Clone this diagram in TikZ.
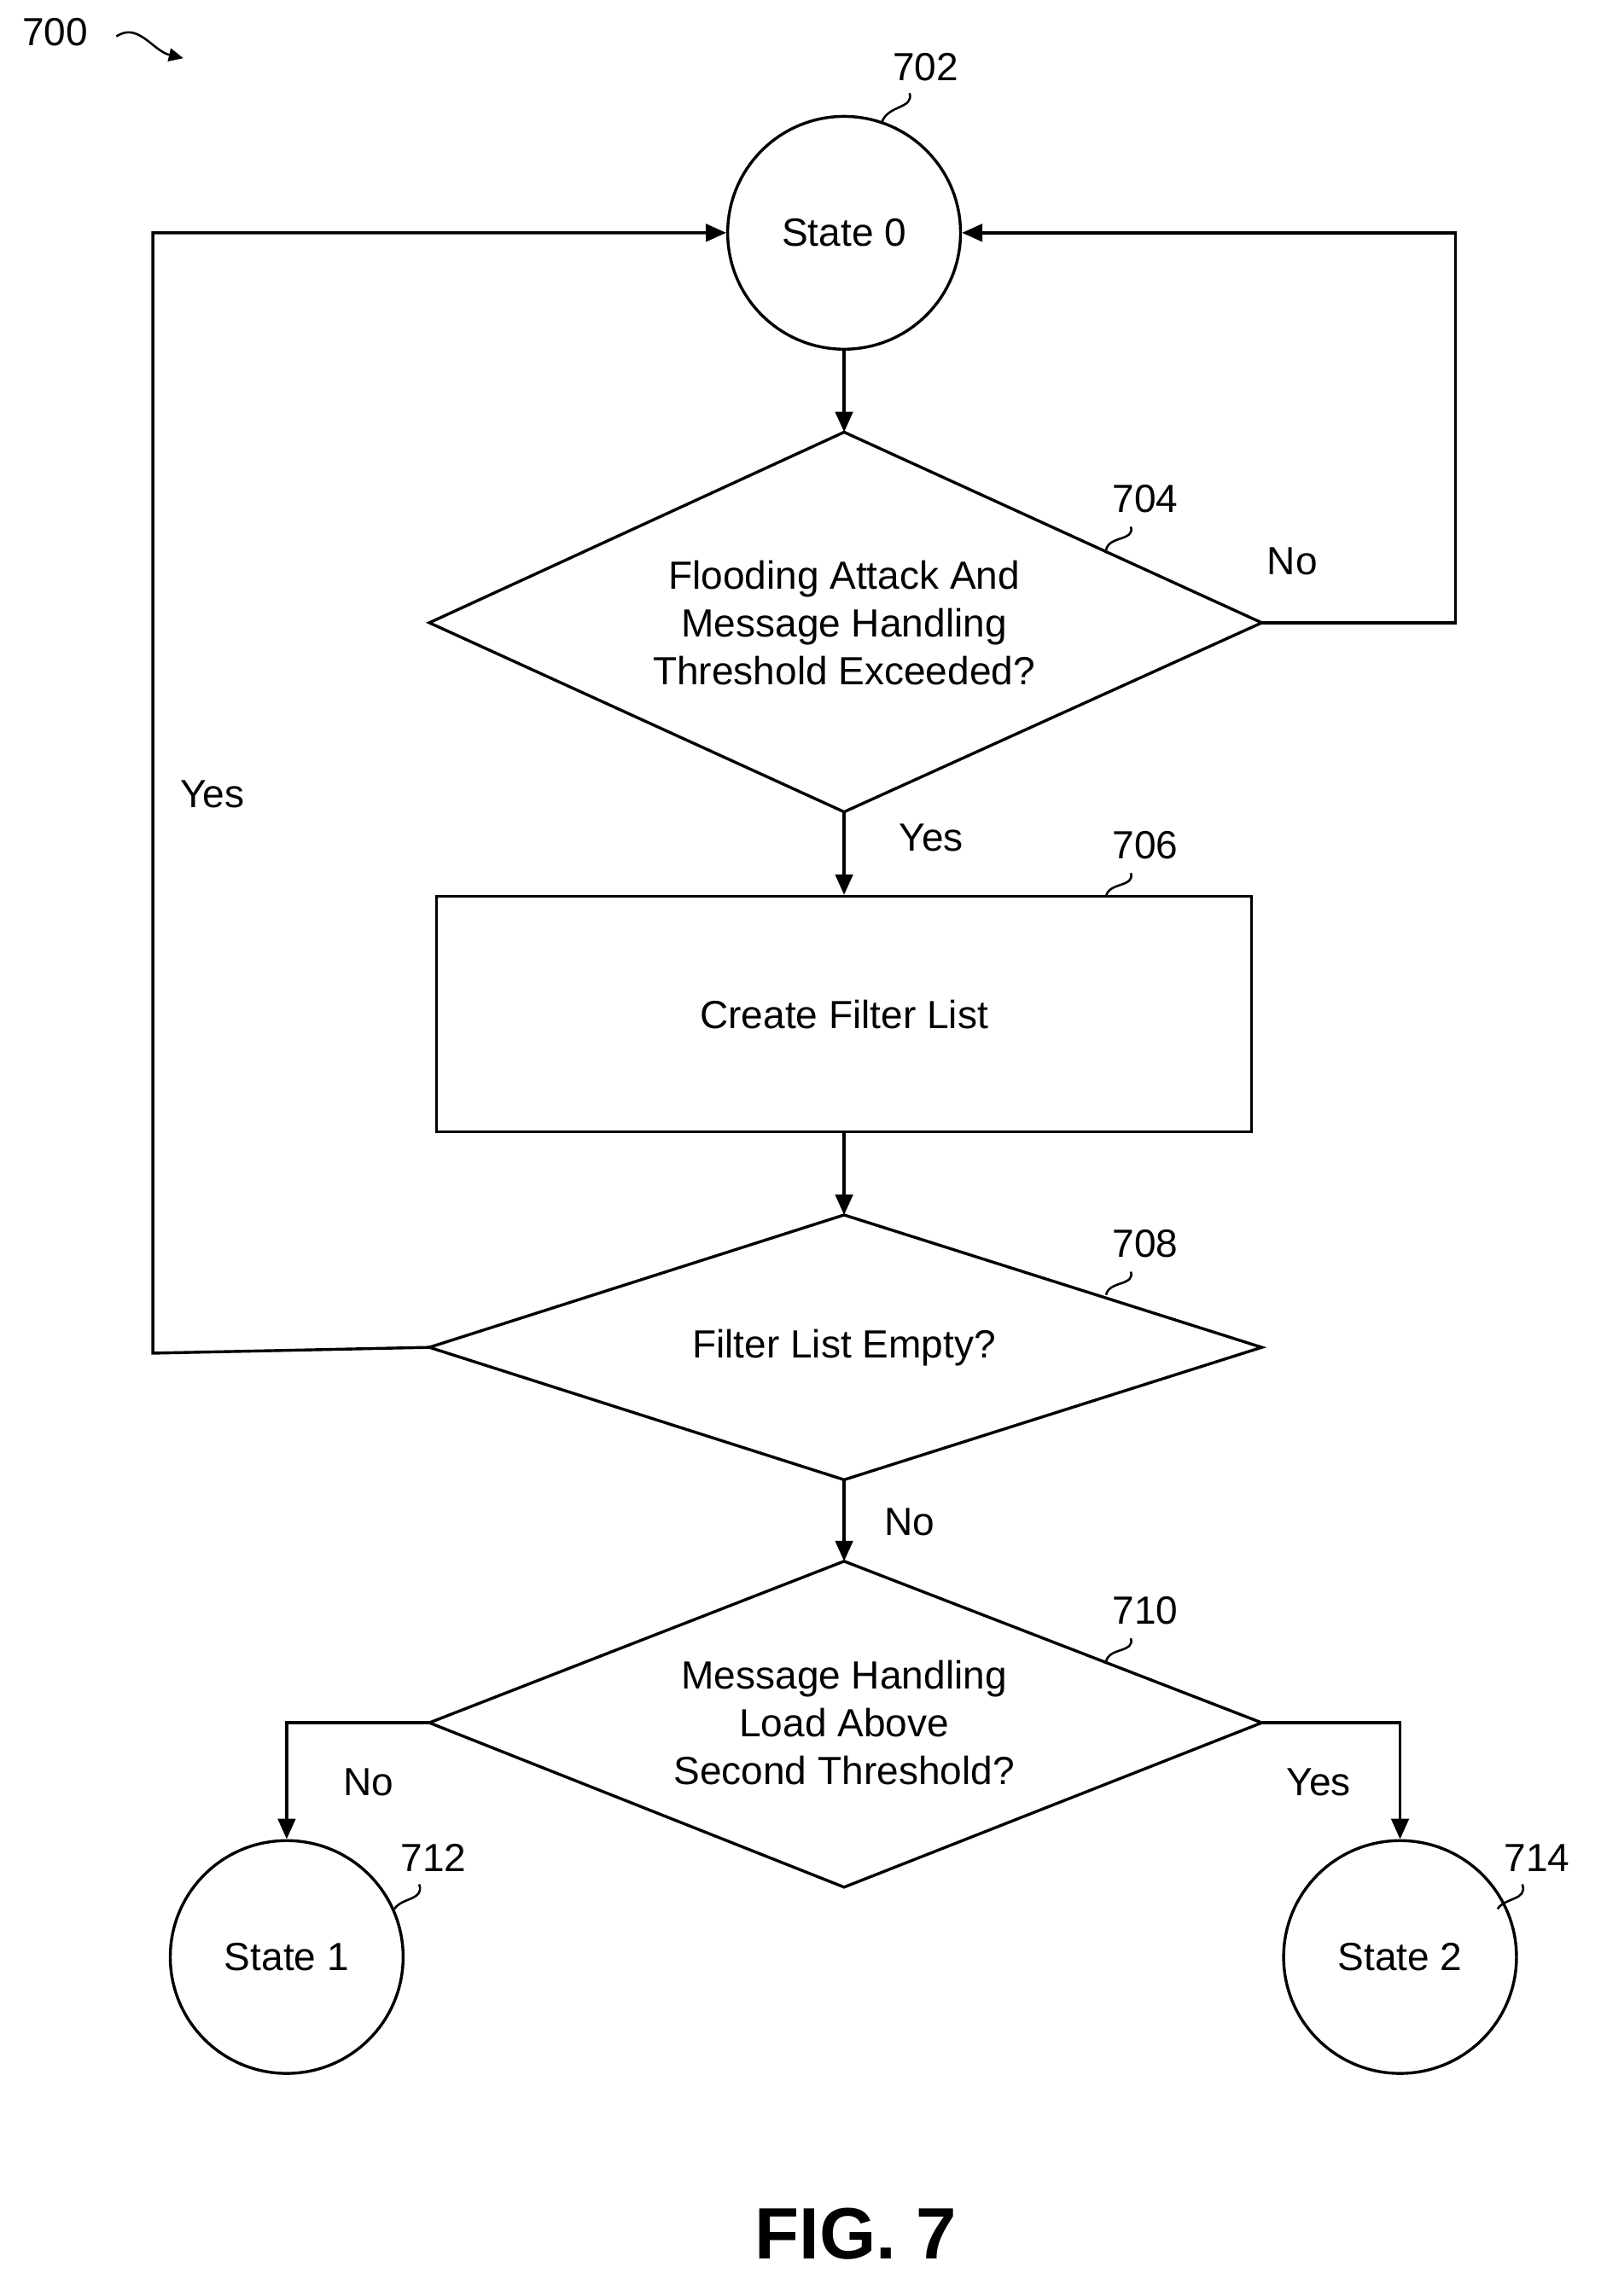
\documentclass[tikz,border=0pt]{standalone}
\usepackage{fontspec}
\setmainfont{Liberation Sans}
\usetikzlibrary{arrows.meta}
\begin{document}
\begin{tikzpicture}[x=1pt,y=-1pt,
  line width=2pt,
  txt/.style={font=\fontsize{27}{33}\selectfont,align=center,inner sep=0},
  lab/.style={font=\fontsize{27}{33}\selectfont,inner sep=0},
  arr/.style={-{Triangle[length=14pt,width=12pt]}},
  st/.style={draw,circle,minimum size=160pt,inner sep=0,font=\fontsize{27}{33}\selectfont},
  lead/.style={line width=1.5pt}]
\useasboundingbox (0,0) rectangle (1100,1578);
% title
\node[lab] (n700) at (38,22) {700};
\coordinate (s1) at (80,25); \coordinate (s2) at (126,40);
\draw[line width=1.5pt,-{Triangle[length=10pt,width=9pt]}] (s1) .. controls (95,15) and (105,35) .. (s2);
% nodes
\node[st] (s0) at (580,160) {State 0};
\node[lab] (l702) at (636,46) {702};
\draw[lead] (625,64) .. controls (628,75) and (610,72) .. (606,84);
% diamond 704
\coordinate (d1t) at (580,297); \coordinate (d1r) at (867,428);
\coordinate (d1b) at (580,558); \coordinate (d1l) at (295,428);
\draw (d1t)--(d1r)--(d1b)--(d1l)--cycle;
\node[txt] (d1) at (580,428) {Flooding Attack And\\Message Handling\\Threshold Exceeded?};
\node[lab] (l704) at (787,343) {704};
\draw[lead] (777,362) .. controls (780,372) and (762,368) .. (760,378);
% rect 706
\node[draw,minimum width=560pt,minimum height=162pt,txt] (r) at (580,697) {Create Filter List};
\node[lab] (l706) at (787,581) {706};
\draw[lead] (777,600) .. controls (780,610) and (762,606) .. (760,616);
% diamond 708
\coordinate (d2t) at (580,835); \coordinate (d2r) at (867,926);
\coordinate (d2b) at (580,1017); \coordinate (d2l) at (295,926);
\draw (d2t)--(d2r)--(d2b)--(d2l)--cycle;
\node[txt] (d2) at (580,926) {Filter List Empty?};
\node[lab] (l708) at (787,855) {708};
\draw[lead] (777,874) .. controls (780,884) and (762,880) .. (760,890);
% diamond 710
\coordinate (d3t) at (580,1073); \coordinate (d3r) at (867,1184);
\coordinate (d3b) at (580,1297); \coordinate (d3l) at (295,1184);
\draw (d3t)--(d3r)--(d3b)--(d3l)--cycle;
\node[txt] (d3) at (580,1184) {Message Handling\\Load Above\\Second Threshold?};
\node[lab] (l710) at (787,1107) {710};
\draw[lead] (777,1126) .. controls (780,1136) and (762,1132) .. (760,1142);
% states 1,2
\node[st] (s1n) at (197,1345) {State 1};
\node[lab] (l712) at (298,1277) {712};
\draw[lead] (288,1295) .. controls (292,1306) and (276,1304) .. (271,1312);
\node[st] (s2n) at (962,1345) {State 2};
\node[lab] (l714) at (1056,1277) {714};
\draw[lead] (1046,1295) .. controls (1050,1306) and (1034,1304) .. (1029,1312);
% connectors
\draw[arr] (s0) -- (d1t);
\draw[arr] (d1b) -- (r.north);
\draw[arr] (r.south) -- (d2t);
\draw[arr] (d2b) -- (d3t);
\coordinate (c1) at (1000,428); \coordinate (c2) at (1000,160);
\draw[arr] (d1r) -- (c1) -- (c2) -- (s0.east);
\coordinate (c3) at (105,930); \coordinate (c4) at (105,160);
\draw[arr] (d2l) -- (c3) -- (c4) -- (s0.west);
\coordinate (c5) at (197,1184); \coordinate (c6) at (962,1184);
\draw[arr] (d3l) -- (c5) -- (s1n.north);
\draw[arr] (d3r) -- (c6) -- (s2n.north);
% labels
\node[lab] (tno1) at (888,386) {No};
\node[lab] (tyes1) at (640,576) {Yes};
\node[lab] (tyes2) at (146,546) {Yes};
\node[lab] (tno2) at (625,1046) {No};
\node[lab] (tno3) at (253,1225) {No};
\node[lab] (tyes3) at (906,1225) {Yes};
\node[font=\fontsize{50}{60}\selectfont\bfseries,inner sep=0] (fig) at (588,1535) {FIG. 7};
\end{tikzpicture}
\end{document}
